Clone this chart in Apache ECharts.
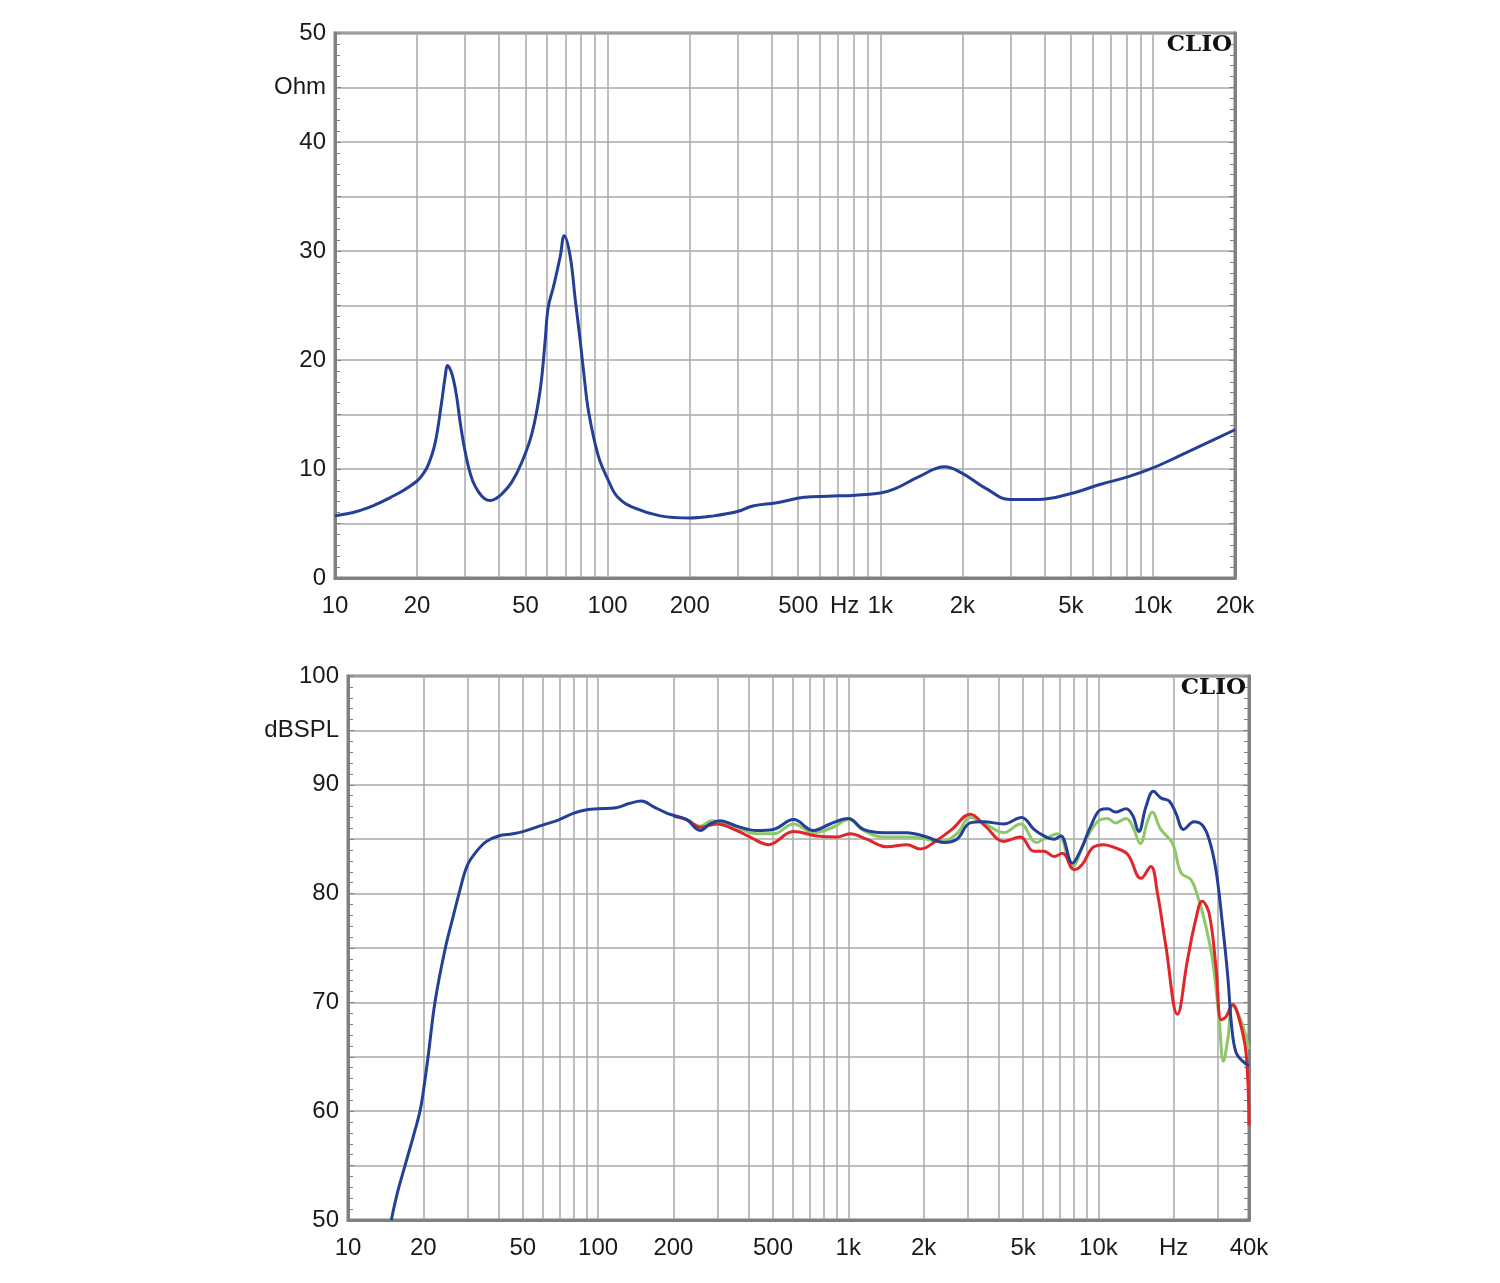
<!DOCTYPE html>
<html>
<head>
<meta charset="utf-8">
<title>CLIO impedance and SPL</title>
<script src="https://cdn.jsdelivr.net/npm/echarts@6/dist/echarts.min.js"></script>
<style>
  html, body { margin: 0; padding: 0; background: #ffffff; }
  #chart { width: 1500px; height: 1283px; }
</style>
</head>
<body>
<div id="chart"></div>
<script>
// impedance (top plot), Hz / Ohm
const impHz = [10, 12, 14, 16, 18, 20, 21, 22, 23.3, 24.6, 25.3, 25.9, 26.6, 27.2, 28, 28.7, 29.7, 30.8, 32,
  33.6, 35.3, 37.1, 39, 40.9, 44.5, 48.4, 52.8, 56.6, 59, 60.5, 63.4, 67, 69.3, 72.9, 76.1, 79.3, 82, 85.2, 92.4,
  100, 109, 126, 156, 200, 245, 299, 341, 417, 527, 644, 813, 1000, 1135, 1387, 1722, 2000, 2445, 2987, 3773,
  4930, 6436, 8134, 10000, 12500, 15800, 20000]
const impOhm = [5.7, 6.1, 6.7, 7.4, 8.1, 8.9, 9.5, 10.4, 12.4, 16.1, 18.3, 19.5, 19.0, 18.2, 16.5, 14.5, 12.2, 10.3, 8.9,
  7.9, 7.3, 7.1, 7.3, 7.7, 8.8, 10.6, 13.3, 17.3, 21.8, 24.8, 26.8, 29.5, 31.4, 29.5, 25.5, 21.8, 18.5, 15.2, 11.2,
  9.1, 7.4, 6.4, 5.7, 5.5, 5.7, 6.1, 6.6, 6.9, 7.4, 7.5, 7.6, 7.8, 8.2, 9.3, 10.2, 9.6, 8.2, 7.2, 7.2,
  7.7, 8.6, 9.3, 10.1, 11.2, 12.4, 13.6]

// frequency response (bottom plot), Hz / dBSPL
const blueHz = [14.9, 15.8, 16.9, 18.2, 19.4, 20, 20.9, 22.3, 24.5, 26.4, 28, 30, 32.7, 35.8, 40, 45.6, 50, 60, 70,
  80, 90, 100, 118, 134, 149, 166, 188, 200, 226, 256, 280, 307, 358, 431, 502, 604, 726, 847, 1002,
  1150, 1384, 1715, 2060, 2405, 2718, 3074, 3476, 4180, 4930, 5527, 6060, 6650, 7070, 7870, 8500, 9320, 10200, 10900, 11700,
  12900, 13700, 14500, 15500, 16600, 17750, 19200, 20400, 21900, 24100, 26000, 27700, 29500, 31400, 32900, 34100, 35500, 37700, 40000]
const blueDb = [50.0, 52.6, 55.0, 57.6, 60.0, 61.8, 65.0, 70.1, 75.0, 78.0, 80.3, 82.6, 83.9, 84.8, 85.3, 85.5, 85.7, 86.3, 86.8,
  87.4, 87.7, 87.8, 87.9, 88.3, 88.5, 88.0, 87.4, 87.2, 86.8, 85.8, 86.4, 86.7, 86.2, 85.8, 85.9, 86.8, 85.8, 86.4, 86.9,
  85.9, 85.6, 85.6, 85.2, 84.7, 85.0, 86.5, 86.6, 86.4, 87.0, 85.9, 85.3, 85.0, 85.3, 82.8, 84.0, 86.2, 87.7, 87.8, 87.5,
  87.8, 87.2, 85.7, 88.0, 89.4, 88.8, 88.5, 87.4, 85.9, 86.6, 86.3, 85.0, 82.2, 77.0, 72.4, 67.8, 65.4, 64.6, 64.2]

const greenHz = [200, 226, 256, 285, 358, 431, 502, 604, 726, 870, 1002, 1150, 1384, 1715, 2060, 2342, 2718, 3074, 3476, 4180,
  4874, 5650, 6060, 6860, 7870, 8760, 9900, 10900, 11700, 12900, 13700, 14700, 15700, 16400, 17750, 19800, 21400, 23400, 24900, 26500,
  28600, 30400, 31600, 32900, 34400, 37100, 40000]
const greenDb = [87.1, 86.8, 86.2, 86.7, 86.1, 85.5, 85.5, 86.4, 85.6, 86.1, 86.8, 85.8, 85.2, 85.2, 85.0, 84.8, 85.5, 87.0, 86.5, 85.6,
  86.4, 84.7, 85.0, 85.5, 82.5, 84.6, 86.6, 86.9, 86.5, 86.9, 86.2, 84.6, 86.6, 87.5, 85.9, 84.6, 81.9, 81.3, 79.8, 77.6,
  73.9, 68.4, 64.6, 66.6, 69.7, 68.4, 65.7]

const redHz = [200, 226, 256, 298, 358, 405, 480, 604, 748, 900, 1016, 1186, 1426, 1715, 1941, 2229, 2596, 3074, 3530, 4180,
  4874, 5510, 6060, 6650, 7180, 8000, 8630, 9460, 10500, 11700, 13100, 14800, 16200, 17200, 18600, 20700, 22700, 24500, 26000, 27700,
  29500, 31000, 32400, 34400, 36600, 38900, 40000]
const redDb = [87.1, 86.8, 86.1, 86.4, 85.8, 85.2, 84.5, 85.7, 85.3, 85.2, 85.5, 85.0, 84.3, 84.5, 84.1, 84.8, 85.9, 87.3, 86.2, 84.8,
  85.2, 83.9, 83.9, 83.4, 83.7, 82.2, 82.7, 84.2, 84.5, 84.2, 83.6, 81.4, 82.5, 80.1, 75.2, 68.9, 73.9, 77.6, 79.3, 78.2,
  73.3, 68.4, 68.7, 69.8, 68.4, 65.4, 58.7]

// axis labels
const impLabelHz = [10, 20, 50, 100, 200, 500, 740, 1000, 2000, 5000, 10000, 20000]
const impLabelText = ['10', '20', '50', '100', '200', '500', 'Hz', '1k', '2k', '5k', '10k', '20k']
const splLabelHz = [10, 20, 50, 100, 200, 500, 1000, 2000, 5000, 10000, 20000, 40000]
const splLabelText = ['10', '20', '50', '100', '200', '500', '1k', '2k', '5k', '10k', 'Hz', '40k']

// log grid: 2..9 x each decade
const gridHz = []
for (const dec of [10, 100, 1000, 10000]) {
  for (let k = 2; k <= 10; k++) gridHz.push(k * dec)
}

const FRAME = '#808080'
const GRID = '#a8a8a8'
const TEXT = '#1a1a1a'
const FONT = '"Liberation Sans", Arial, sans-serif'
const BLUE = '#243f96'
const GREEN = '#8cc868'
const RED = '#e0262a'

function toPoints(hz, vals) {
  return hz.map((f, i) => [Math.log10(f), vals[i]])
}

function freqAxis(gridIndex, maxHz, labelHz, labelText) {
  const logs = labelHz.map(f => Math.log10(f))
  return {
    type: 'value',
    gridIndex,
    min: 1,
    max: Math.log10(maxHz),
    axisLine: { show: true, lineStyle: { color: FRAME, width: 3 } },
    axisTick: { show: false, customValues: gridHz.filter(f => f < maxHz).map(f => Math.log10(f)) },
    splitLine: { show: true, lineStyle: { color: GRID, width: 1.5 } },
    axisLabel: {
      customValues: logs,
      margin: 16,
      fontSize: 24,
      fontFamily: FONT,
      color: TEXT,
      formatter: (v) => {
        const i = logs.findIndex(l => Math.abs(l - v) < 1e-6)
        return i >= 0 ? labelText[i] : ''
      },
    },
  }
}

function levelAxis(gridIndex, min, max, unitAt, unit, position) {
  const left = position === 'left'
  return {
    type: 'value',
    gridIndex,
    position,
    min,
    max,
    interval: 5,
    axisLine: { show: true, lineStyle: { color: FRAME, width: 3 } },
    axisTick: { show: true, inside: true, length: 6, lineStyle: { color: FRAME } },
    minorTick: { show: true, splitNumber: 5, length: 5, lineStyle: { color: FRAME } },
    splitLine: { show: left, lineStyle: { color: GRID, width: 1.5 } },
    axisLabel: {
      show: left,
      margin: 9,
      fontSize: 24,
      fontFamily: FONT,
      color: TEXT,
      formatter: (v) => (v % 10 === 0 ? String(v) : (v === unitAt ? unit : '')),
    },
  }
}

function curve(name, xi, yi, hz, vals, color) {
  return {
    name,
    type: 'line',
    xAxisIndex: xi,
    yAxisIndex: yi,
    data: toPoints(hz, vals),
    showSymbol: false,
    smooth: 0.4,
    lineStyle: { color, width: 3 },
    clip: true,
  }
}

const chart = echarts.init(document.getElementById('chart'))
chart.setOption({
  animation: false,
  backgroundColor: '#ffffff',
  title: [
    { text: 'CLIO', right: 268, top: 34, padding: 0,
      textStyle: { fontFamily: '"DejaVu Serif", serif', fontWeight: 'bold', fontSize: 23, color: '#111' } },
    { text: 'CLIO', right: 254, top: 677, padding: 0,
      textStyle: { fontFamily: '"DejaVu Serif", serif', fontWeight: 'bold', fontSize: 23, color: '#111' } },
  ],
  grid: [
    { left: 335, top: 33, right: 265, bottom: 705, show: true, borderColor: FRAME, borderWidth: 3 },
    { left: 348, top: 676, right: 251, bottom: 63, show: true, borderColor: FRAME, borderWidth: 3 },
  ],
  xAxis: [
    freqAxis(0, 20000, impLabelHz, impLabelText),
    freqAxis(1, 40000, splLabelHz, splLabelText),
  ],
  yAxis: [
    levelAxis(0, 0, 50, 45, 'Ohm', 'left'),
    levelAxis(0, 0, 50, 45, 'Ohm', 'right'),
    levelAxis(1, 50, 100, 95, 'dBSPL', 'left'),
    levelAxis(1, 50, 100, 95, 'dBSPL', 'right'),
  ],
  series: [
    curve('Impedance', 0, 0, impHz, impOhm, BLUE),
    curve('SPL green', 1, 2, greenHz, greenDb, GREEN),
    curve('SPL red', 1, 2, redHz, redDb, RED),
    curve('SPL blue', 1, 2, blueHz, blueDb, BLUE),
  ],
})
</script>
</body>
</html>
